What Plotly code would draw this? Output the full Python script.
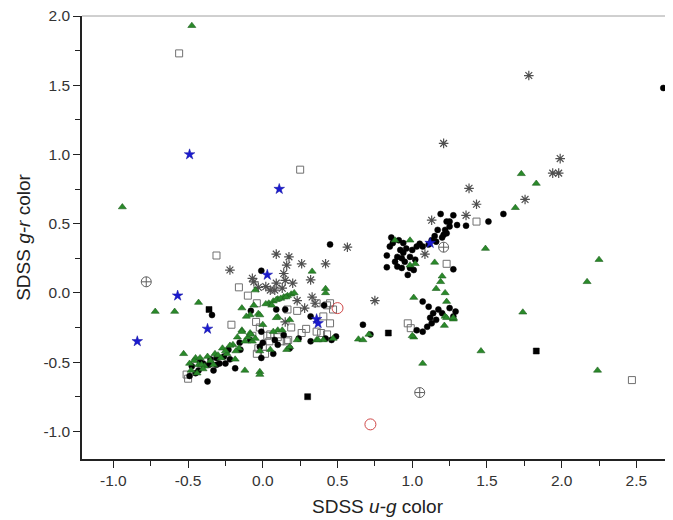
import plotly.graph_objects as go

# ---- data (SDSS u-g, g-r) ----
circ_x = [2.68, 1.61, 1.51, 1.275, 1.19, 1.30, 1.36, 1.25, 1.22, 1.21, 1.23, 1.25, 1.17, 1.15, 1.23, 1.20,
          1.16, 1.13, 1.11, 1.07, 1.05, 1.03, 1.00, 0.96, 0.94, 0.92, 0.90, 0.86, 0.83, 0.85, 0.90, 0.83,
          0.93, 0.97, 1.01, 0.95, 0.985, 1.275, 0.87, 0.91, 0.94, 0.885, 0.93, 0.985, 1.02,
          1.07, 1.11, 1.14, 1.175, 1.20, 1.25, 1.29, 1.275, 1.12, 1.16, 1.10, 1.07, 1.03, 1.13, 0.72,
          0.45, -0.01, -0.08, 0.09, 0.15, -0.34, 0.41, 0.32, -0.01, -0.085, 0.08, 0.14, 0.10, 0.18,
          0.24, 0.32, 0.42, 0.46, 0.49, -0.155, -0.15, -0.23, -0.37, -0.475, -0.45, -0.49, -0.35,
          -0.31, -0.26, -0.36, -0.29, -0.42, -0.25, -0.22, -0.31, -0.40, -0.185, -0.02, -0.01, 0.67,
          0.07, 0.00, -0.43, -0.33]
circ_y = [1.48, 0.57, 0.515, 0.56, 0.57, 0.49, 0.485, 0.515, 0.455, 0.42, 0.515, 0.48, 0.455, 0.41, 0.43, 0.40,
          0.37, 0.38, 0.35, 0.335, 0.355, 0.335, 0.31, 0.32, 0.29, 0.31, 0.26, 0.40, 0.27, 0.335, 0.19, 0.185,
          0.18, 0.13, 0.165, 0.225, 0.26, 0.17, 0.36, 0.38, 0.36, 0.225, 0.25, 0.18, 0.24,
          -0.063, -0.10, -0.147, -0.12, -0.147, -0.11, -0.135, -0.17, -0.18, -0.195, -0.245, -0.28, -0.27, -0.22, -0.30,
          0.35, 0.16, -0.13, -0.12, -0.12, -0.16, -0.09, -0.17, -0.28, -0.34, -0.34, -0.305, -0.375, -0.40,
          -0.33, -0.35, -0.33, -0.34, -0.315, -0.36, -0.41, -0.41, -0.64, -0.53, -0.58, -0.60, -0.48,
          -0.47, -0.46, -0.52, -0.51, -0.50, -0.51, -0.48, -0.52, -0.51, -0.545, -0.39, -0.47, -0.23,
          -0.44, -0.36, -0.56, -0.56]

tri_x = [-0.475, -0.94, -0.72, -0.59, -0.43, -0.53, -0.45, 1.73, 1.83, 1.69, 1.49, 1.15, 1.20, 1.19, 1.16,
         1.22, 1.01, 1.23, 1.22, 1.275, 1.01, 1.74, 0.885, 0.985, 0.985, 1.02, 1.46, 1.07, 1.00, 1.215,
         1.23, 1.275, 2.24, 2.25, 2.17, 0.64, 0.67, 0.71,
         0.33, 0.42, 0.42, -0.05, 0.04, 0.07, 0.10, 0.14, 0.165, 0.19, 0.06, -0.085, -0.11, -0.03, 0.00,
         0.10, 0.18, 0.10, -0.14, -0.17, -0.07, -0.20, -0.16, -0.24, -0.27, -0.32, -0.37, -0.42, -0.46,
         -0.43, -0.39, -0.33, -0.49, -0.185, -0.02, 0.05, 0.16, 0.23, 0.36, 0.405, 0.47, -0.06, -0.14,
         -0.02, -0.14, -0.10, -0.02, -0.12, -0.41, 0.09, 0.07, 0.13, -0.085, -0.02, 0.18, 0.37,
         -0.30, -0.25, -0.22, -0.12, -0.08, -0.05, -0.35, -0.28, -0.18, -0.40, -0.48, -0.44,
         0.02, 0.09, 0.12, 0.155, 0.21]
tri_y = [1.93, 0.62, -0.135, -0.135, -0.07, -0.44, -0.47, 0.86, 0.79, 0.615, 0.32, 0.22, 0.12, 0.08, 0.03,
         0.00, -0.034, -0.063, -0.17, -0.19, -0.32, -0.14, 0.38, 0.38, 0.20, 0.21, -0.42, -0.51, -0.31, -0.236,
         -0.18, -0.18, -0.56, 0.24, 0.08, -0.335, -0.34, -0.30,
         0.155, 0.03, 0.00, 0.02, -0.075, -0.06, -0.045, -0.03, -0.02, -0.01, -0.09, -0.16, -0.17, -0.15, -0.23,
         -0.175, -0.195, -0.27, -0.27, -0.32, -0.35, -0.375, -0.40, -0.44, -0.40, -0.44, -0.46, -0.47, -0.49,
         -0.52, -0.53, -0.52, -0.51, -0.48, -0.57, -0.41, -0.41, -0.34, -0.34, -0.34, -0.33, -0.09, -0.11,
         -0.16, -0.28, -0.32, -0.59, -0.56, -0.52, -0.18, -0.28, -0.27, -0.29, -0.42, -0.39, -0.34,
         -0.45, -0.42, -0.38, -0.35, -0.30, -0.33, -0.49, -0.47, -0.42, -0.55, -0.56, -0.58,
         -0.08, -0.05, -0.04, -0.03, 0.00]

osq_x = [-0.56, 0.25, 2.47, -0.31, -0.16, -0.10, -0.04, -0.21, -0.045, -0.02, -0.07, 0.03, 0.044, 0.015,
         -0.03, 0.10, 0.16, 0.19, 0.26, 0.29, 0.36, 0.39, 0.43, 0.165, 0.23, 0.405, 0.45, 0.43, 0.47, 0.45,
         0.36, -0.51, -0.50, 0.00, -0.04, 0.12, 0.17, 0.05, 1.43, 1.23, 0.97, 0.99]
osq_y = [1.73, 0.89, -0.63, 0.27, 0.04, -0.02, -0.075, -0.23, -0.21, -0.25, -0.31, -0.31, -0.35, -0.44,
         -0.40, -0.32, -0.35, -0.25, -0.29, -0.26, -0.28, -0.29, -0.30, -0.12, -0.13, -0.17, -0.22, -0.09, -0.12, -0.075,
         -0.075, -0.59, -0.62, -0.39, -0.44, -0.35, -0.34, -0.30, 0.515, 0.21, -0.22, -0.255]

ast_x = [1.78, 1.21, 1.99, 1.94, 1.98, 1.755, 1.38, 1.43, 1.36, 1.13, 1.085, 0.75, 0.566, -0.22, 0.09, 0.175,
         0.16, 0.26, 0.42, 0.32, 0.20, 0.14, 0.15, 0.09, 0.02, -0.03, -0.07, -0.06, 0.05, 0.08, 0.13, 0.23,
         0.28, 0.33, 0.35, 0.15]
ast_y = [1.57, 1.08, 0.97, 0.865, 0.865, 0.675, 0.755, 0.64, 0.56, 0.525, 0.28, -0.056, 0.33, 0.165, 0.28, 0.26,
         0.20, 0.21, 0.21, 0.094, 0.07, 0.14, 0.09, 0.07, 0.045, 0.04, 0.105, 0.08, 0.02, 0.02, 0.034, -0.056,
         -0.11, -0.03, -0.075, -0.21]

star_x = [-0.49, 0.11, -0.84, -0.57, -0.37, 0.03, 0.36, 0.37, 1.12]
star_y = [1.00, 0.75, -0.35, -0.02, -0.26, 0.13, -0.19, -0.22, 0.36]

bsq_x = [-0.36, 0.30, 1.83, 0.84]
bsq_y = [-0.12, -0.75, -0.42, -0.29]

cplus_x = [-0.78, 1.05, 1.21]
cplus_y = [0.08, -0.72, 0.33]

red_x = [0.50, 0.72]
red_y = [-0.11, -0.95]

x_ticks = [-1.0, -0.5, 0.0, 0.5, 1.0, 1.5, 2.0, 2.5]
y_ticks = [-1.0, -0.5, 0.0, 0.5, 1.0, 1.5, 2.0]

fig = go.Figure()

def add(x, y, symbol, size, fill, line, lw=1.0):
    fig.add_trace(go.Scatter(x=x, y=y, mode="markers", showlegend=False,
                             marker=dict(symbol=symbol, size=size, color=fill,
                                         line=dict(color=line, width=lw))))

add(osq_x, osq_y, "square-open", 7, "#707070", "#707070", 1)
add(ast_x, ast_y, "asterisk-open", 8, "#505050", "#505050", 1.2)
add(circ_x, circ_y, "circle", 6, "black", "black", 0.5)
add(tri_x, tri_y, "triangle-up", 7, "#2a8a2a", "#1f5f1f", 0.6)
add(bsq_x, bsq_y, "square", 6, "black", "black", 0.5)
add(star_x, star_y, "star", 8, "#1a1ad0", "#1010a0", 0.5)
add(cplus_x, cplus_y, "circle-cross-open", 10, "#606060", "#606060", 1)
add(red_x, red_y, "circle-open", 11, "#d04848", "#d04848", 1)

fig.add_shape(type="line", xref="paper", yref="paper", x0=0, x1=1, y0=1, y1=1,
              line=dict(color="#a0a0a0", width=1))

tick_font = dict(family="Liberation Sans, Arial, sans-serif", size=15.5, color="#333333")
title_font = dict(family="Liberation Sans, Arial, sans-serif", size=19, color="#222222")
common = dict(showgrid=False, zeroline=False, showline=True, linecolor="#222", linewidth=1.5,
              ticks="outside", ticklen=7, tickwidth=1.3, tickcolor="#222", automargin=False,
              tickfont=tick_font, ticklabeloverflow="allow")
# the page adds an 8px body margin, so the figure is sized 8px smaller
fig.update_layout(
    width=665, height=512,
    margin=dict(l=74, r=0, t=8, b=61),
    paper_bgcolor="white", plot_bgcolor="white",
    font=tick_font,
    xaxis=dict(range=[-1.21, 2.745], tickvals=x_ticks, ticktext=[f"{v:.1f}" for v in x_ticks],
               minor=dict(dtick=0.25, tick0=0, ticks="outside", ticklen=5, tickcolor="#222", tickwidth=1.2),
               title=dict(text="SDSS <i>u-g</i> color", font=title_font, standoff=11),
               **common),
    yaxis=dict(range=[-1.2, 2.0], tickvals=y_ticks, ticktext=[f"{v:.1f}" for v in y_ticks],
               minor=dict(dtick=0.25, tick0=0, ticks="outside", ticklen=5, tickcolor="#222", tickwidth=1.2),
               title=dict(text="SDSS <i>g-r</i> color", font=title_font, standoff=8),
               **common),
)

fig.write_html("out.html")
